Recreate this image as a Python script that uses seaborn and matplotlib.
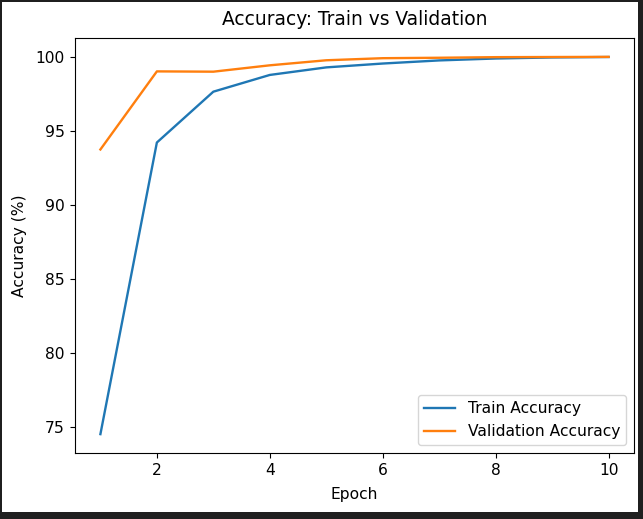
import numpy as np
import matplotlib
matplotlib.use("Agg")
import matplotlib.pyplot as plt
import pandas as pd
import seaborn as sns
from matplotlib.patches import Rectangle

# values
epochs = [1, 2, 3, 4, 5, 6, 7, 8, 9, 10]
train_acc = [74.53, 94.21, 97.64, 98.77, 99.28, 99.54, 99.75, 99.88, 99.95, 99.98]
val_acc = [93.74, 99.01, 98.99, 99.42, 99.76, 99.90, 99.93, 99.97, 99.98, 99.99]

df = pd.DataFrame({
    "Epoch": epochs * 2,
    "Accuracy": train_acc + val_acc,
    "Series": ["Train Accuracy"] * len(epochs) + ["Validation Accuracy"] * len(epochs),
})

# the screenshot is about 1.12x a default matplotlib figure
plt.rcParams["font.size"] = 11.2
plt.rcParams["xtick.major.size"] = 3.9
plt.rcParams["ytick.major.size"] = 3.9

fig = plt.figure(figsize=(6.43, 5.19), dpi=100)
ax = fig.add_axes([75 / 643, 1 - 453 / 519, 559 / 643, 415 / 519])

sns.lineplot(data=df, x="Epoch", y="Accuracy", hue="Series",
             palette=["tab:blue", "tab:orange"], ax=ax, linewidth=1.7)

ax.set_title("Accuracy: Train vs Validation", fontsize=13.4, pad=9.5)
ax.set_xlabel("Epoch", labelpad=6)
ax.set_ylabel("Accuracy (%)", labelpad=6)
ax.set_xticks([2, 4, 6, 8, 10])
ax.set_yticks([75, 80, 85, 90, 95, 100])
ax.legend(title=None, loc="lower right")

# dark screenshot border
dark = "#1f1f1f"
for x0, y0, w, h in [(0, 0, 1, 7 / 519), (1 - 5 / 643, 0, 5 / 643, 1),
                     (0, 1 - 2 / 519, 1, 2 / 519), (0, 0, 1.5 / 643, 1)]:
    fig.patches.append(Rectangle((x0, y0), w, h, transform=fig.transFigure,
                                 facecolor=dark, linewidth=0, zorder=10))

fig.savefig("out.png", dpi=100)
